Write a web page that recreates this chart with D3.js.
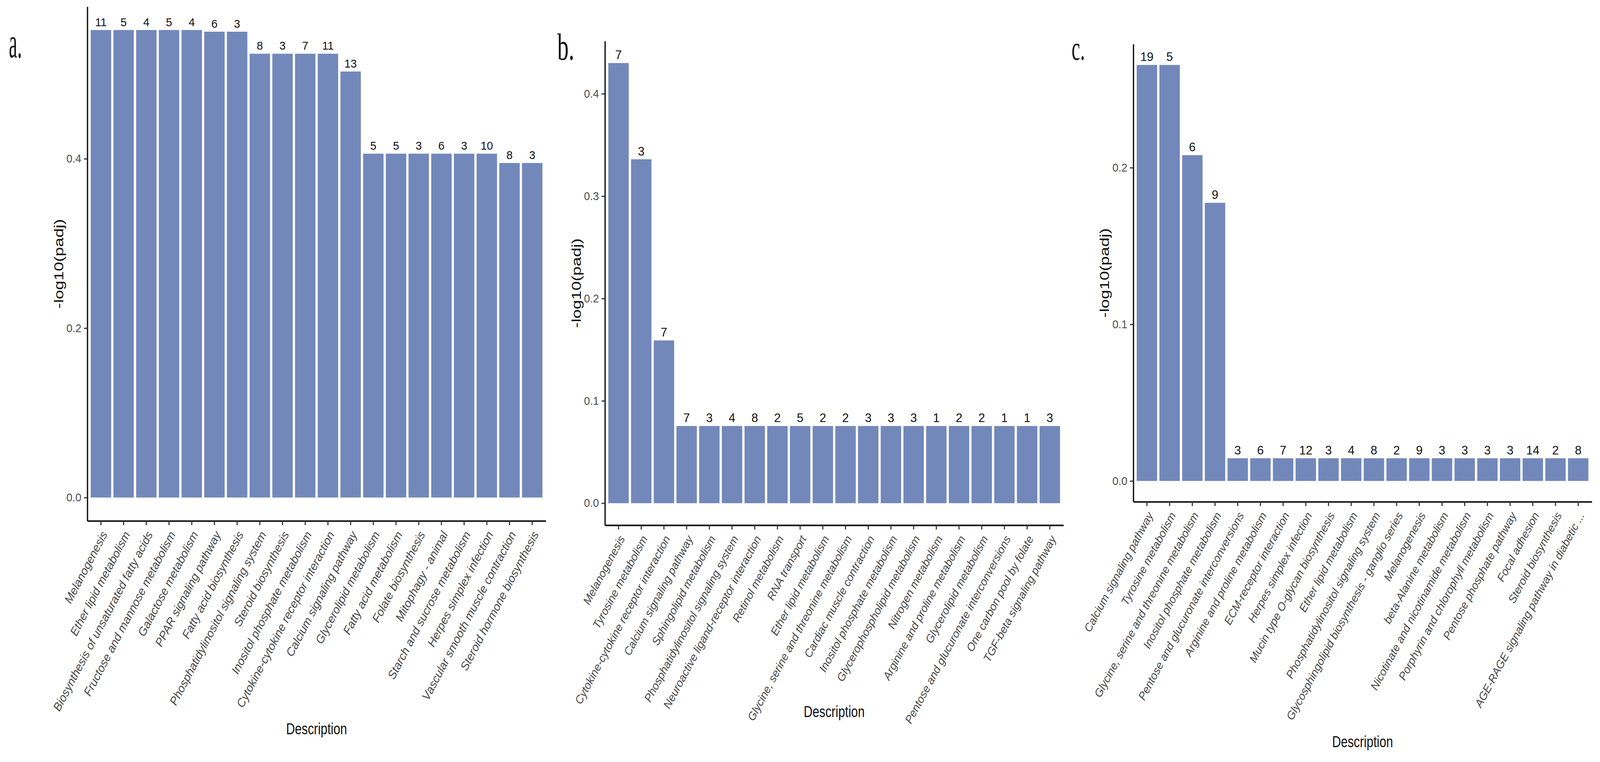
<!DOCTYPE html>
<html>
<head>
<meta charset="utf-8">
<script src="https://cdn.jsdelivr.net/npm/d3@7"></script>
<style>
  html, body { margin: 0; padding: 0; background: #fff; overflow: hidden; }
  svg { display: block; }
</style>
</head>
<body>
<script>
// panel a
const aNames = ["Melanogenesis", "Ether lipid metabolism", "Biosynthesis of unsaturated fatty acids",
  "Fructose and mannose metabolism", "Galactose metabolism", "PPAR signaling pathway",
  "Fatty acid biosynthesis", "Phosphatidylinositol signaling system", "Steroid biosynthesis",
  "Inositol phosphate metabolism", "Cytokine-cytokine receptor interaction", "Calcium signaling pathway",
  "Glycerolipid metabolism", "Fatty acid metabolism", "Folate biosynthesis", "Mitophagy - animal",
  "Starch and sucrose metabolism", "Herpes simplex infection", "Vascular smooth muscle contraction",
  "Steroid hormone biosynthesis"];
const aValues = [0.552, 0.552, 0.552, 0.552, 0.552, 0.550, 0.550, 0.524, 0.524, 0.524, 0.524, 0.503,
  0.406, 0.406, 0.406, 0.406, 0.406, 0.406, 0.395, 0.395];
const aCounts = [11, 5, 4, 5, 4, 6, 3, 8, 3, 7, 11, 13, 5, 5, 3, 6, 3, 10, 8, 3];
const aTicks = [0.0, 0.2, 0.4];

// panel b
const bNames = ["Melanogenesis", "Tyrosine metabolism", "Cytokine-cytokine receptor interaction",
  "Calcium signaling pathway", "Sphingolipid metabolism", "Phosphatidylinositol signaling system",
  "Neuroactive ligand-receptor interaction", "Retinol metabolism", "RNA transport",
  "Ether lipid metabolism", "Glycine, serine and threonine metabolism", "Cardiac muscle contraction",
  "Inositol phosphate metabolism", "Glycerophospholipid metabolism", "Nitrogen metabolism",
  "Arginine and proline metabolism", "Glycerolipid metabolism", "Pentose and glucuronate interconversions",
  "One carbon pool by folate", "TGF-beta signaling pathway"];
const bValues = [0.430, 0.336, 0.159, 0.0754, 0.0754, 0.0754, 0.0754, 0.0754, 0.0754, 0.0754,
  0.0754, 0.0754, 0.0754, 0.0754, 0.0754, 0.0754, 0.0754, 0.0754, 0.0754, 0.0754];
const bCounts = [7, 3, 7, 7, 3, 4, 8, 2, 5, 2, 2, 3, 3, 3, 1, 2, 2, 1, 1, 3];
const bTicks = [0.0, 0.1, 0.2, 0.3, 0.4];

// panel c
const cNames = ["Calcium signaling pathway", "Tyrosine metabolism", "Glycine, serine and threonine metabolism",
  "Inositol phosphate metabolism", "Pentose and glucuronate interconversions",
  "Arginine and proline metabolism", "ECM-receptor interaction", "Herpes simplex infection",
  "Mucin type O-glycan biosynthesis", "Ether lipid metabolism", "Phosphatidylinositol signaling system",
  "Glycosphingolipid biosynthesis - ganglio series", "Melanogenesis", "beta-Alanine metabolism",
  "Nicotinate and nicotinamide metabolism", "Porphyrin and chlorophyll metabolism",
  "Pentose phosphate pathway", "Focal adhesion", "Steroid biosynthesis",
  "AGE-RAGE signaling pathway in diabetic ..."];
const cValues = [0.2656, 0.2656, 0.208, 0.1776, 0.0145, 0.0145, 0.0145, 0.0145, 0.0145, 0.0145,
  0.0145, 0.0145, 0.0145, 0.0145, 0.0145, 0.0145, 0.0145, 0.0145, 0.0145, 0.0145];
const cCounts = [19, 5, 6, 9, 3, 6, 7, 12, 3, 4, 8, 2, 9, 3, 3, 3, 3, 14, 2, 8];
const cTicks = [0.0, 0.1, 0.2];

const svgSize = { width: 4306, height: 1950 };
const barColor = '#7388ba';
const sans = '"Liberation Sans", Arial, Helvetica, sans-serif';
const serif = '"Liberation Serif", "Times New Roman", serif';

// the drawing is laid out in a 4306x1950 box and stretched onto the window
const svg = d3.select('body')
  .append('svg')
  .attr('viewBox', `0 0 ${svgSize.width} ${svgSize.height}`)
  .attr('preserveAspectRatio', 'none')
  .style('width', '100vw')
  .style('height', '100vh')
  .style('background', '#fff');

function drawPanel(p) {
  const g = svg.append('g');

  const x = d3.scaleBand()
    .domain(p.names)
    .range([p.left, p.right])
    .paddingInner(0.1)
    .paddingOuter(0.15);
  const maxV = d3.max(p.values);
  // ggplot style: 5% room under zero and above the tallest bar
  const y = d3.scaleLinear()
    .domain([-0.05 * maxV, 1.05 * maxV])
    .range([p.bottom, p.top]);

  const rows = p.names.map((n, i) => ({ name: n, value: p.values[i], count: p.counts[i] }));

  g.selectAll('rect.bar')
    .data(rows)
    .enter()
    .append('rect')
    .attr('class', 'bar')
    .attr('x', d => x(d.name))
    .attr('width', x.bandwidth())
    .attr('y', d => y(d.value))
    .attr('height', d => y(0) - y(d.value))
    .attr('fill', barColor);

  // gene counts over the bars
  g.selectAll('text.count')
    .data(rows)
    .enter()
    .append('text')
    .attr('class', 'count')
    .attr('x', d => x(d.name) + x.bandwidth() / 2)
    .attr('y', d => y(d.value) - 10)
    .attr('text-anchor', 'middle')
    .attr('font-family', sans)
    .attr('font-size', p.countSize)
    .attr('fill', '#111')
    .text(d => d.count);

  // y axis
  const yAxis = d3.axisLeft(y)
    .tickValues(p.ticks)
    .tickFormat(d3.format('.1f'))
    .tickSize(9)
    .tickPadding(7)
    .tickSizeOuter(0);
  const ya = g.append('g')
    .attr('transform', `translate(${p.left},0)`)
    .call(yAxis);
  ya.select('.domain').attr('stroke', '#111').attr('stroke-width', 3.5);
  ya.selectAll('.tick line').attr('stroke', '#333').attr('stroke-width', 3);
  ya.selectAll('.tick text')
    .attr('font-family', sans)
    .attr('font-size', 29)
    .attr('fill', '#4d4d4d');

  // x axis, labels turned like ggplot's angle/hjust=1
  const xAxis = d3.axisBottom(x).tickSize(11).tickSizeOuter(0);
  const xa = g.append('g')
    .attr('transform', `translate(0,${p.bottom})`)
    .call(xAxis);
  xa.select('.domain').attr('stroke', '#111').attr('stroke-width', 4);
  xa.selectAll('.tick line').attr('stroke', '#333').attr('stroke-width', 3);
  xa.selectAll('.tick text')
    .attr('x', 0)
    .attr('y', 0)
    .attr('dy', '0.35em')
    .attr('text-anchor', 'end')
    .attr('transform', `translate(9,29) rotate(${-p.angle})`)
    .attr('font-family', sans)
    .attr('font-style', 'italic')
    .attr('font-size', p.labelSize)
    .attr('fill', '#474747');

  // titles
  g.append('text')
    .attr('transform', `translate(${(p.left + p.right) / 2},${p.descY}) scale(0.8,1)`)
    .attr('text-anchor', 'middle')
    .attr('font-family', sans)
    .attr('font-size', 41)
    .attr('fill', '#111')
    .text('Description');
  g.append('text')
    .attr('transform', `translate(${p.left - 77},${(p.top + p.bottom) / 2}) scale(0.8,1) rotate(-90)`)
    .attr('text-anchor', 'middle')
    .attr('dy', '0.35em')
    .attr('font-family', sans)
    .attr('font-size', 43)
    .attr('fill', '#111')
    .text('-log10(padj)');
  g.append('text')
    .attr('transform', `translate(${p.tagX},${p.tagY}) scale(${p.tagScale},1)`)
    .attr('font-family', serif)
    .attr('font-size', p.tagSize)
    .attr('fill', '#111')
    .text(p.tag);
}

drawPanel({ names: aNames, values: aValues, counts: aCounts, ticks: aTicks,
  left: 235, right: 1469, top: 17, bottom: 1333,
  angle: 61, labelSize: 30.5, countSize: 30,
  descY: 1879, tag: 'a.', tagX: 24, tagY: 147, tagSize: 110, tagScale: 0.46 });
drawPanel({ names: bNames, values: bValues, counts: bCounts, ticks: bTicks,
  left: 1628, right: 2862, top: 105, bottom: 1344,
  angle: 60.5, labelSize: 29.3, countSize: 32,
  descY: 1835, tag: 'b.', tagX: 1500, tagY: 153, tagSize: 98, tagScale: 0.62 });
drawPanel({ names: cNames, values: cValues, counts: cCounts, ticks: cTicks,
  left: 3050, right: 4284, top: 113, bottom: 1284,
  angle: 60.5, labelSize: 29.3, countSize: 32,
  descY: 1912, tag: 'c.', tagX: 2884, tagY: 153, tagSize: 86, tagScale: 0.6 });
</script>
</body>
</html>
